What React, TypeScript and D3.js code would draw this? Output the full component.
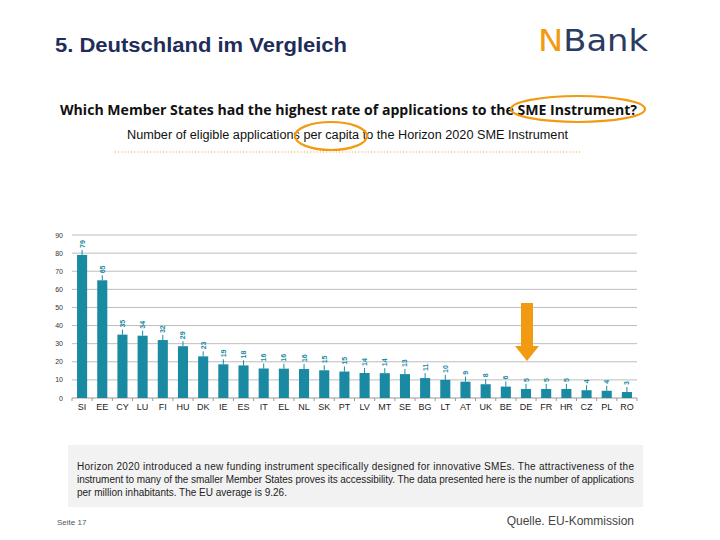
import * as d3 from 'd3'

const countries = ['SI', 'EE', 'CY', 'LU', 'FI', 'HU', 'DK', 'IE', 'ES', 'IT', 'EL', 'NL', 'SK', 'PT', 'LV', 'MT', 'SE', 'BG', 'LT', 'AT', 'UK', 'BE', 'DE', 'FR', 'HR', 'CZ', 'PL', 'RO']
const values = [79, 65, 35, 34.4, 32, 28.6, 23, 18.6, 18, 16.3, 16.2, 16, 15.3, 14.6, 13.8, 13.7, 13.2, 11, 10, 9, 7.6, 6.3, 5, 5, 5, 4.3, 4, 3.3]
const yTicks = [0, 10, 20, 30, 40, 50, 60, 70, 80, 90]
const noteLines = [
  'Horizon 2020 introduced a new funding instrument specifically designed for innovative SMEs. The attractiveness of the',
  'instrument to many of the smaller Member States proves its accessibility. The data presented here is the number of applications',
  'per million inhabitants. The EU average is 9.26.',
]

const W = 720
const H = 540
const PLOT = { left: 72, right: 637, top: 235, bottom: 398 }
const TEAL = '#1a8aa3'
const ORANGE = '#f29a12'
const NAVY = '#1f2d5a'

export default function App() {
  const x = d3.scaleBand<string>().domain(countries).range([PLOT.left, PLOT.right]).paddingInner(0.5).paddingOuter(0.25)
  const y = d3.scaleLinear().domain([0, 90]).range([PLOT.bottom, PLOT.top])
  const bw = x.bandwidth()
  const step = x.step()

  return (
    <svg width={W} height={H} style={{ display: 'block', margin: '-8px' }} fontFamily="Liberation Sans, Arial, sans-serif">
      <rect width={W} height={H} fill="#fff" />
      <text x={55} y={52} fontSize={20} fontWeight="bold" fill={NAVY} textLength={292} lengthAdjust="spacingAndGlyphs">5. Deutschland im Vergleich</text>
      <text x={538} y={51} fontSize={30} fontWeight="500" fontFamily="DejaVu Sans, sans-serif" fill="#2b3b63" textLength={110} lengthAdjust="spacingAndGlyphs">
        <tspan fill={ORANGE}>N</tspan>Bank
      </text>

      <text x={60} y={115} fontSize={14} fontWeight="bold" fill="#111" textLength={577} lengthAdjust="spacingAndGlyphs" fontFamily="Open Sans, sans-serif">
        Which Member States had the highest rate of applications to the SME Instrument?
      </text>
      <text x={127} y={139} fontSize={12} fill="#111" textLength={441} lengthAdjust="spacingAndGlyphs" fontFamily="Liberation Sans Narrow, Liberation Sans, sans-serif">
        Number of eligible applications per capita to the Horizon 2020 SME Instrument
      </text>
      <line x1={115} x2={580} y1={152} y2={152} stroke={ORANGE} strokeWidth={1} strokeDasharray="1 2.2" />
      <ellipse cx={578} cy={109} rx={67} ry={13} fill="none" stroke={ORANGE} strokeWidth={2.2} />
      <ellipse cx={331} cy={136} rx={36} ry={14} fill="none" stroke={ORANGE} strokeWidth={2.2} />

      {yTicks.map((t) => (
        <g key={t}>
          {t > 0 && <line x1={PLOT.left} x2={PLOT.right} y1={y(t)} y2={y(t)} stroke="#bdbdbd" strokeWidth={1} />}
          <text x={63} y={y(t) + 2.5} fontSize={7} textAnchor="end" fill="#333">{t}</text>
        </g>
      ))}
      <line x1={PLOT.left} x2={PLOT.right} y1={y(0)} y2={y(0)} stroke="#999" />
      {countries.map((c, i) => {
        const x0 = (x(c) ?? 0) + bw / 2
        const v = values[i]
        const top = y(v)
        return (
          <g key={c}>
            <line x1={x0 - step / 2} x2={x0 - step / 2} y1={y(0)} y2={y(0) + 3} stroke="#999" />
            <rect x={x(c)} y={top} width={bw} height={y(0) - top} fill={TEAL} />
            <line x1={x0} x2={x0} y1={top} y2={top - 5} stroke={TEAL} strokeWidth={1} />
            <text transform={`translate(${x0 + 2.5},${top - 7}) rotate(-90)`} fontSize={7} fill={TEAL} fontWeight="bold">
              {Math.round(v)}
            </text>
            <text x={x0} y={410} fontSize={9} textAnchor="middle" fill="#222" fontFamily="Liberation Sans Narrow, Liberation Sans, sans-serif">{c}</text>
          </g>
        )
      })}
      <line x1={PLOT.right} x2={PLOT.right} y1={y(0)} y2={y(0) + 3} stroke="#999" />

      <g>
        <rect x={521} y={303} width={12} height={45} fill={ORANGE} />
        <path d="M515,346 L539,346 L527,361 Z" fill={ORANGE} />
      </g>

      <rect x={68} y={445} width={575} height={62} fill="#f2f2f2" />
      {noteLines.map((l, i) => (
        <text key={i} x={77} y={470 + i * 13} fontSize={10} fill="#222" fontFamily="Liberation Sans Narrow, Liberation Sans, sans-serif"
          textLength={i < 2 ? 557 : undefined} lengthAdjust="spacing">
          {l}
        </text>
      ))}
      <text x={57} y={525} fontSize={8} fill="#555">Seite 17</text>
      <text x={634} y={525} fontSize={12} textAnchor="end" fill="#444">Quelle. EU-Kommission</text>
    </svg>
  )
}
